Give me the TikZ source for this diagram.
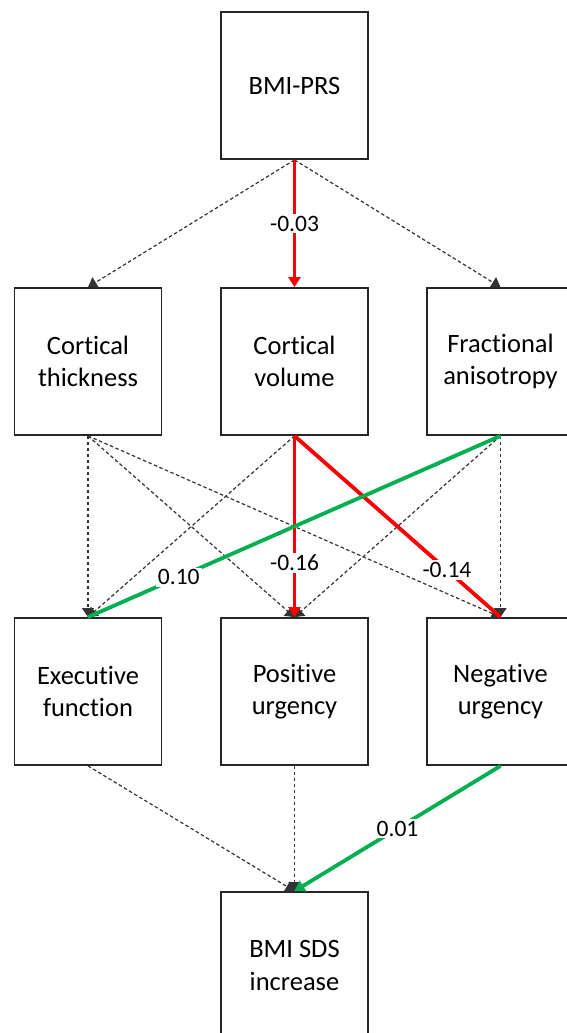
\documentclass[tikz,border=0pt]{standalone}
\usepackage{fontspec}
\setmainfont{Carlito}[Ligatures=NoCommon]
\usetikzlibrary{arrows.meta}
\definecolor{myred}{RGB}{250,0,0}
\definecolor{mygreen}{RGB}{0,176,80}
\begin{document}
\begin{tikzpicture}[x=1pt,y=-1pt,
  box/.style={draw=black!85, line width=1.8pt, minimum width=147pt, minimum height=147pt,
    inner sep=0pt, align=center, font=\fontsize{26.5}{32.5}\selectfont},
  dasharrow/.style={draw=black!80, line width=1.2pt, dash pattern=on 3.5pt off 2.5pt,
    -{Triangle[length=9pt,width=12pt]}},
  redarrow/.style={draw=myred, line width=3.8pt, -{Triangle[length=10pt,width=12pt]}},
  redline/.style={draw=myred, line width=3.8pt},
  greenarrow/.style={draw=mygreen, line width=3.8pt, -{Triangle[length=10pt,width=12pt]}},
  greenline/.style={draw=mygreen, line width=3.8pt},
  lbl/.style={fill=white, inner sep=2pt, font=\fontsize{23.5}{27}\selectfont}]
\useasboundingbox (0,0) rectangle (567,1033);
\clip (0,0) rectangle (567,1033);
\fill[white] (0,0) rectangle (567,1033);

\node[box] (prs) at (294.5,85.5) {BMI-PRS};
\node[box] (ct) at (88,361.5) {Cortical\\thickness};
\node[box] (cv) at (294.5,361.5) {Cortical\\volume};
\node[box] (fa) at (500.5,361.5) {Fractional\\anisotropy};
\node[box] (ef) at (88,691.5) {Executive\\function};
\node[box] (pu) at (294.5,691.5) {Positive\\urgency};
\node[box] (nu) at (500.5,691.5) {Negative\\urgency};
\node[box] (bmi) at (294.5,965.5) {BMI SDS\\increase};

% dashed (non-significant) paths
\draw[dasharrow] (prs.south) -- (ct.north);
\draw[dasharrow] (prs.south) -- (fa.north);
\draw[dasharrow] (ct.south) -- (ef.north);
\draw[dasharrow] (ct.south) -- (pu.north);
\draw[dasharrow] (ct.south) -- (nu.north);
\draw[dasharrow] (cv.south) -- (ef.north);
\draw[dasharrow] (fa.south) -- (pu.north);
\draw[dasharrow] (fa.south) -- (nu.north);
\draw[dasharrow] (ef.south) -- (bmi.north);
\draw[dasharrow] (pu.south) -- (bmi.north);

% significant paths
\draw[redarrow] (prs.south) -- node[lbl,pos=0.5] {-0.03} (cv.north);
\draw[redarrow] (cv.south) -- node[lbl,pos=0.70] {-0.16} (pu.north);
\draw[redline] (cv.south) -- node[lbl,pos=0.74] {-0.14} (nu.north);
\draw[greenline] (fa.south) -- node[lbl,pos=0.78] {0.10} (ef.north);
\draw[greenarrow] (nu.south) -- node[lbl,pos=0.5] {0.01} (bmi.north);
\end{tikzpicture}
\end{document}
